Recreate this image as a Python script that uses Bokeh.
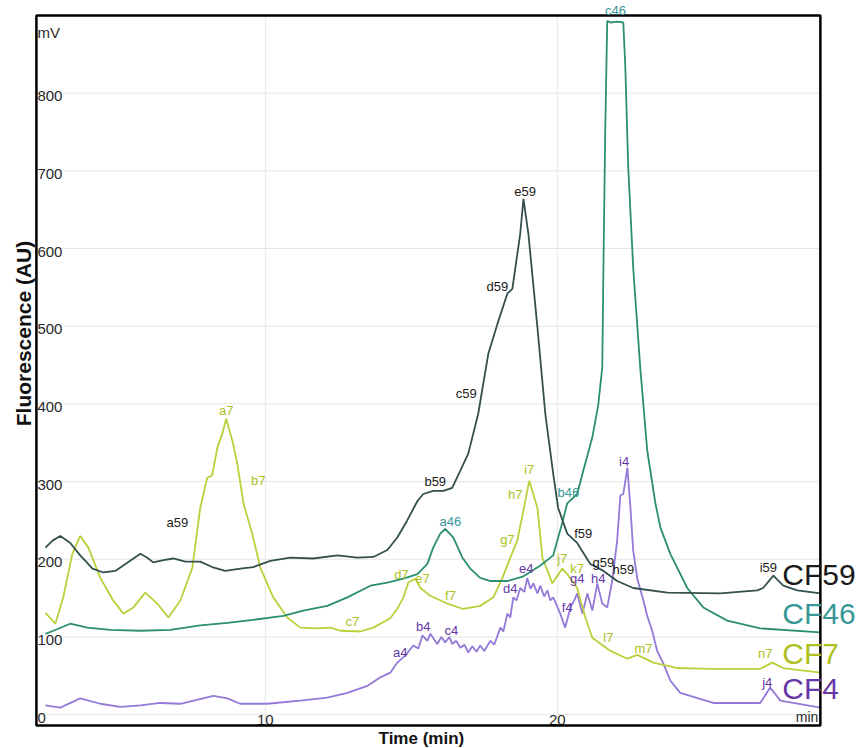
import math
from bokeh.plotting import figure
from bokeh.models import Range1d, ColumnDataSource, LabelSet, Label
from bokeh.embed import file_html
from bokeh.resources import INLINE
from bokeh.core.properties import value

FONT = "Liberation Sans"

# ---------------- data (time in min, fluorescence in AU) ----------------
cf59_x = [2.47, 2.71, 2.98, 3.32, 3.66, 4.08, 4.45, 4.86, 5.21, 5.72, 5.96, 6.16, 6.51, 6.85, 7.26, 7.77,
          8.18, 8.63, 9.14, 9.59, 10.17, 10.86, 11.64, 12.47, 13.15, 13.70, 14.18, 14.52, 14.86, 15.21,
          15.41, 15.75, 16.10, 16.40, 16.68, 16.95, 17.29, 17.64, 17.95, 18.29, 18.46, 18.73, 18.84, 19.01,
          19.32, 19.59, 19.86, 20.03, 20.34, 20.68, 21.13, 21.58, 22.05, 22.60, 23.77, 25.58, 26.85, 27.05,
          27.40, 27.74, 28.22, 29.01]
cf59_y = [215, 224, 230, 221, 205, 188, 183, 185, 194, 207, 202, 196, 199, 201, 197, 197,
          190, 185, 188, 190, 198, 202, 201, 205, 202, 203, 212, 228, 250, 275,
          284, 288, 288, 292, 314, 336, 387, 465, 503, 542, 548, 619, 664, 619,
          498, 387, 310, 266, 233, 221, 194, 185, 172, 163, 157, 156, 160, 163,
          179, 166, 160, 156]

cf46_x = [2.47, 2.74, 3.32, 3.90, 4.69, 5.72, 6.75, 7.77, 8.70, 9.59, 10.62, 11.30, 12.12, 12.81, 13.60,
          14.18, 14.73, 15.21, 15.55, 15.75, 15.99, 16.16, 16.44, 16.75, 17.02, 17.36, 17.71, 18.29, 18.84,
          19.42, 19.86, 20.17, 20.34, 20.68, 20.89, 21.20, 21.40, 21.54, 21.58, 21.64, 21.71, 21.82, 22.05,
          22.26, 22.33, 22.43, 22.60, 22.84, 23.08, 23.36, 23.53, 23.87, 24.45, 25.00, 25.82, 26.95, 29.01]
cf46_y = [104, 108, 117, 112, 109, 108, 109, 115, 118, 122, 127, 134, 140, 151, 166,
          170, 175, 181, 194, 215, 233, 239, 228, 202, 188, 176, 172, 172, 178,
          192, 205, 247, 272, 284, 314, 357, 398, 447, 575, 748, 893, 891, 892,
          891, 833, 704, 575, 447, 340, 272, 241, 207, 163, 138, 121, 111, 106]

cf7_x = [2.47, 2.81, 3.08, 3.39, 3.66, 3.94, 4.35, 4.79, 5.14, 5.48, 5.89, 6.30, 6.68, 7.09, 7.50, 7.77,
         8.01, 8.18, 8.36, 8.53, 8.66, 8.87, 9.04, 9.25, 9.55, 9.83, 10.27, 10.75, 11.20, 11.78, 12.23,
         12.57, 13.25, 13.70, 14.28, 14.55, 14.73, 14.90, 15.14, 15.31, 15.65, 16.23, 16.78, 17.36, 17.81,
         18.12, 18.39, 18.63, 18.84, 19.04, 19.32, 19.49, 19.83, 20.17, 20.34, 20.68, 20.96, 21.20, 21.82,
         22.40, 22.74, 23.29, 24.11, 25.24, 26.95, 27.36, 27.74, 29.01]
cf7_y = [131, 117, 151, 207, 230, 215, 176, 147, 130, 138, 157, 143, 125, 147, 189, 266,
         305, 308, 344, 362, 381, 353, 323, 272, 233, 189, 151, 125, 112, 111, 112,
         108, 107, 112, 124, 138, 151, 170, 175, 163, 153, 143, 136, 140, 151,
         176, 202, 224, 263, 301, 266, 202, 169, 188, 181, 163, 125, 99, 82,
         72, 77, 67, 60, 59, 59, 67, 60, 54]

cf4_x = [2.47, 2.98, 3.66, 4.35, 5.03, 5.72, 6.40, 7.09, 8.22, 8.70, 9.14, 10.07, 11.20, 12.12, 12.81,
         13.49, 13.94, 14.28, 14.52, 14.79, 15.07, 15.24, 15.38, 15.55, 15.65, 15.89, 16.03, 16.16, 16.30,
         16.40, 16.54, 16.68, 16.82, 16.95, 17.09, 17.23, 17.36, 17.50, 17.71, 17.84, 18.05, 18.15, 18.29,
         18.39, 18.49, 18.60, 18.73, 18.87, 18.97, 19.08, 19.18, 19.32, 19.42, 19.55, 19.66, 19.76, 19.86,
         20.00, 20.10, 20.27, 20.45, 20.58, 20.68, 20.86, 21.03, 21.20, 21.37, 21.54, 21.71, 21.88, 22.05,
         22.16, 22.26, 22.40, 22.50, 22.60, 22.74, 22.95, 23.08, 23.25, 23.42, 23.63, 23.87, 24.21, 25.34,
         26.95, 27.29, 27.64, 29.01]
cf4_y = [12, 9, 21, 14, 10, 12, 15, 14, 24, 21, 14, 14, 18, 22, 28,
         37, 48, 54, 67, 76, 89, 85, 102, 95, 104, 91, 100, 93, 100,
         91, 95, 86, 90, 80, 88, 81, 89, 82, 95, 90, 112, 107, 130,
         125, 151, 147, 163, 158, 176, 162, 169, 156, 166, 152, 160, 147, 151,
         139, 130, 112, 138, 147, 156, 130, 156, 134, 169, 143, 138, 172, 224,
         282, 284, 318, 269, 211, 175, 147, 127, 108, 82, 66, 44, 28, 15,
         15, 35, 18, 9]

# peak annotations
labels59 = ["a59", "b59", "c59", "d59", "e59", "f59", "g59", "h59", "i59"]
labels59_x = [6.99, 15.82, 16.88, 17.95, 18.90, 20.89, 21.58, 22.26, 27.23]
labels59_y = [247, 300, 413, 551, 674, 233, 196, 187, 189]

labels46 = ["a46", "b46", "c46"]
labels46_x = [16.34, 20.38, 21.99]
labels46_y = [248, 286, 906]

labels7 = ["a7", "b7", "c7", "d7", "e7", "f7", "g7", "h7", "i7", "j7", "k7", "l7", "m7", "n7"]
labels7_x = [8.66, 9.76, 12.98, 14.66, 15.38, 16.34, 18.29, 18.56, 19.04, 20.17, 20.68, 21.75, 22.95, 27.12]
labels7_y = [391, 302, 120, 180, 175, 153, 225, 284, 315, 201, 188, 99, 85, 79]

labels4 = ["a4", "b4", "c4", "d4", "e4", "f4", "g4", "h4", "i4", "j4"]
labels4_x = [14.62, 15.41, 16.37, 18.39, 18.94, 20.34, 20.68, 21.40, 22.29, 27.19]
labels4_y = [80, 113, 108, 163, 188, 138, 175, 175, 326, 41]

series_names = ["CF59", "CF46", "CF7", "CF4"]

x_ticks = [10, 20]
y_ticks = [0, 100, 200, 300, 400, 500, 600, 700, 800]

# plotting box (axis limits) and the visible view around it
BOX_X0, BOX_X1 = 2.16, 29.01
BOX_Y0, BOX_Y1 = -14, 900
VIEW_X = (0.93, 30.35)
VIEW_Y = (-43.6, 919.3)

# ---------------- styles ----------------
line_colors = {"CF59": "#33504f", "CF46": "#2b8f6c", "CF7": "#bccf3a", "CF4": "#9479d8"}
text_colors = {"CF59": "#1a1a1a", "CF46": "#389898", "CF7": "#aebf22", "CF4": "#6538a6"}
GRID = "#e6e6e6"
TICK = "#2a2a2a"

p = figure(width=859, height=748, output_backend="svg", toolbar_location=None,
           x_range=Range1d(*VIEW_X), y_range=Range1d(*VIEW_Y),
           x_axis_location=None, y_axis_location=None,
           min_border=0, min_border_left=0, min_border_right=0,
           min_border_top=0, min_border_bottom=0)
p.background_fill_color = "white"
p.border_fill_color = "white"
p.outline_line_color = None
p.grid.visible = False

# grid lines inside the box
p.segment(x0=[BOX_X0] * len(y_ticks), y0=y_ticks, x1=[BOX_X1] * len(y_ticks), y1=y_ticks,
          line_color=GRID, line_width=1)
p.segment(x0=x_ticks, y0=[BOX_Y0] * len(x_ticks), x1=x_ticks, y1=[BOX_Y1] * len(x_ticks),
          line_color=GRID, line_width=1)

# tick labels drawn inside the box
p.text(x=[BOX_X0] * len(y_ticks), y=y_ticks, text=[str(t) for t in y_ticks],
       text_font=value(FONT), text_font_size="15px", text_color=TICK,
       text_align="left", text_baseline="middle", x_offset=1, y_offset=3)
p.text(x=x_ticks, y=[BOX_Y0] * len(x_ticks), text=[str(t) for t in x_ticks],
       text_font=value(FONT), text_font_size="15px", text_color=TICK,
       text_align="center", text_baseline="bottom", y_offset=-1)
p.text(x=[BOX_X1], y=[BOX_Y0], text=["min"], text_font=value(FONT), text_font_size="14px",
       text_color=TICK, text_align="right", text_baseline="bottom", x_offset=-2, y_offset=-1)
p.text(x=[BOX_X0], y=[BOX_Y1], text=["mV"], text_font=value(FONT), text_font_size="15px",
       text_color=TICK, text_align="left", text_baseline="top", x_offset=1, y_offset=9)

series = {
    "CF4": (cf4_x, cf4_y, labels4, labels4_x, labels4_y),
    "CF7": (cf7_x, cf7_y, labels7, labels7_x, labels7_y),
    "CF46": (cf46_x, cf46_y, labels46, labels46_x, labels46_y),
    "CF59": (cf59_x, cf59_y, labels59, labels59_x, labels59_y),
}

for name in ["CF4", "CF7", "CF46", "CF59"]:
    xs, ys, labs, lx, ly = series[name]
    p.line(xs, ys, line_color=line_colors[name], line_width=1.8)

# the black frame around the plotting box
p.quad(left=[BOX_X0], right=[BOX_X1], bottom=[BOX_Y0], top=[BOX_Y1],
       fill_color=None, line_color="black", line_width=2.5)

for name in ["CF4", "CF7", "CF46", "CF59"]:
    xs, ys, labs, lx, ly = series[name]
    src = ColumnDataSource(dict(x=lx, y=ly, t=labs))
    p.add_layout(LabelSet(x="x", y="y", text="t", source=src, text_font=value(FONT),
                          text_font_size="13px", text_color=text_colors[name],
                          text_align="center", text_baseline="middle"))

for name in series_names:
    xs, ys = series[name][0], series[name][1]
    p.add_layout(Label(x=xs[-1], y=ys[-1], text=name, text_font=FONT,
                       text_font_size="30px", text_color=text_colors[name],
                       text_align="left", text_baseline="middle", x_offset=-38, y_offset=19))

# axis titles
p.add_layout(Label(x=(BOX_X0 + BOX_X1) / 2, y=BOX_Y0, text="Time (min)", text_font=FONT,
                   text_font_size="17px", text_font_style="bold", text_color="#111111",
                   text_align="center", text_baseline="middle", x_offset=-7, y_offset=-13))
p.add_layout(Label(x=BOX_X0, y=(BOX_Y0 + BOX_Y1) / 2, text="Fluorescence (AU)", text_font=FONT,
                   text_font_size="21px", text_font_style="bold", text_color="#111111",
                   angle=math.pi / 2, text_align="center", text_baseline="middle",
                   x_offset=-13, y_offset=37))

open("out.html", "w").write(file_html(p, INLINE))
